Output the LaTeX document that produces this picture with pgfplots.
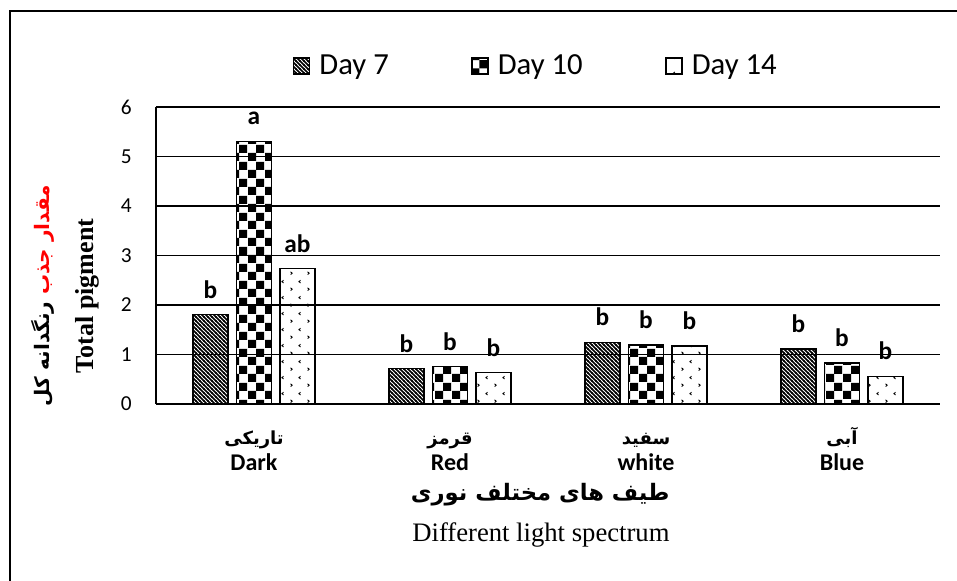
\documentclass[border=0pt]{standalone}
\usepackage{pgfplots}
\pgfplotsset{compat=1.18}
\usepackage{fontspec}
\usetikzlibrary{patterns}
\setmainfont{Carlito}
\newfontfamily\timesf{Liberation Serif}
\newfontfamily\arfont[Script=Arabic]{DejaVu Sans}
\TeXXeTstate=1

\pgfdeclarepatternformonly{mystripes}{\pgfqpoint{-1pt}{-1pt}}{\pgfqpoint{4pt}{4pt}}{\pgfqpoint{3pt}{3pt}}{%
  \pgfsetlinewidth{1.1pt}%
  \pgfpathmoveto{\pgfqpoint{-0.2pt}{3.2pt}}\pgfpathlineto{\pgfqpoint{3.2pt}{-0.2pt}}%
  \pgfusepath{stroke}}
\pgfdeclarepatternformonly{mychecker}{\pgfpointorigin}{\pgfqpoint{12.4pt}{12.4pt}}{\pgfqpoint{12.4pt}{12.4pt}}{%
  \pgfpathrectangle{\pgfpointorigin}{\pgfqpoint{6.2pt}{6.2pt}}%
  \pgfpathrectangle{\pgfqpoint{6.2pt}{6.2pt}}{\pgfqpoint{6.2pt}{6.2pt}}%
  \pgfusepath{fill}}
\pgfdeclarepatternformonly{mychevron}{\pgfpointorigin}{\pgfqpoint{12.75pt}{12pt}}{\pgfqpoint{12.75pt}{12pt}}{%
  \pgfsetlinewidth{0.7pt}%
  \pgfpathmoveto{\pgfqpoint{1.3pt}{4.1pt}}\pgfpathlineto{\pgfqpoint{2.5pt}{3pt}}\pgfpathlineto{\pgfqpoint{1.3pt}{1.9pt}}%
  \pgfpathmoveto{\pgfqpoint{9.1pt}{10.1pt}}\pgfpathlineto{\pgfqpoint{7.9pt}{9pt}}\pgfpathlineto{\pgfqpoint{9.1pt}{7.9pt}}%
  \pgfusepath{stroke}}

\newcommand{\fa}[1]{\raisebox{0pt}[12pt][4pt]{\arfont\bfseries\fontsize{13.5}{15}\selectfont\beginR #1\endR}}

\pgfplotstableread{
x y m
0 1.80 b
1 0.71 b
2 1.25 b
3 1.11 b
}\dayseven
\pgfplotstableread{
x y m
0 5.31 a
1 0.75 b
2 1.19 b
3 0.83 b
}\dayten
\pgfplotstableread{
x y m
0 2.73 ab
1 0.63 b
2 1.17 b
3 0.55 b
}\dayfourteen

\begin{document}
\begin{tikzpicture}
\useasboundingbox (0,0) rectangle (717.75pt,435.75pt);
\begin{axis}[
  at={(117pt,132.75pt)}, anchor=south west,
  scale only axis, width=588pt, height=222.75pt,
  xmin=-0.5, xmax=3.5, ymin=0, ymax=6,
  ytick={0,1,2,3,4,5,6},
  xtick={0,1,2,3},
  xticklabels={
    {\fa{تاریکی}\\Dark},
    {\fa{قرمز}\\Red},
    {\fa{سفید}\\white},
    {\fa{آبی}\\Blue}},
  axis x line*=bottom, axis y line*=left,
  x axis line style={-, line width=1.5pt},
  y axis line style={-, line width=1.5pt},
  ymajorgrids, grid style={black, line width=1.1pt},
  major tick length=0pt,
  /pgf/number format/assume math mode=true,
  yticklabel style={font=\fontsize{16}{18}\selectfont, inner sep=0pt, xshift=-18pt, anchor=east},
  xticklabel style={font=\bfseries\fontsize{18}{20}\selectfont, align=center, anchor=north, inner sep=0pt, yshift=-18pt},
  ybar=6.375pt, bar width=26.25pt,
  clip=false,
  nodes near coords, point meta=explicit symbolic,
  nodes near coords style={font=\bfseries\fontsize{19}{21}\selectfont, inner sep=0pt, yshift=12pt, anchor=south},
  legend columns=3,
  legend style={draw=none, at={(0.485,1.138)}, anchor=center,
    font=\fontsize{23}{26}\selectfont,
    /tikz/every odd column/.append style={column sep=5pt},
    /tikz/every even column/.append style={column sep=60pt}},
  legend image code/.code={\draw[#1, line width=0.8pt] (0pt,-6pt) rectangle (12pt,6pt);},
]
\addplot[draw=black, line width=0.9pt, pattern=mystripes] table[x=x, y=y, meta=m] {\dayseven};
\addplot[draw=black, line width=0.9pt, pattern=mychecker] table[x=x, y=y, meta=m] {\dayten};
\addplot[draw=black, line width=0.9pt, pattern=mychevron] table[x=x, y=y, meta=m] {\dayfourteen};
\legend{Day 7, Day 10, Day 14}

\node[rotate=90, font=\timesf\bfseries\fontsize{19.5}{22}\selectfont] at (axis description cs:-0.088,0.364) {Total pigment};
\node[rotate=90, font=\arfont\bfseries\fontsize{15}{17}\selectfont] at (axis description cs:-0.144,0.364)
  {{\beginR رنگدانه کل\endR}\ {\color{red}\beginR مقدار جذب\endR}};
\node[font=\arfont\bfseries\fontsize{17}{19}\selectfont] at (axis description cs:0.49,-0.306) {\beginR طیف های مختلف نوری\endR};
\node[font=\timesf\fontsize{20}{22}\selectfont] at (axis description cs:0.491,-0.441) {Different light spectrum};
\end{axis}
\draw[line width=1.5pt] (7.5pt,0pt) -- (7.5pt,427.5pt) -- (717.75pt,427.5pt);
\end{tikzpicture}
\end{document}
